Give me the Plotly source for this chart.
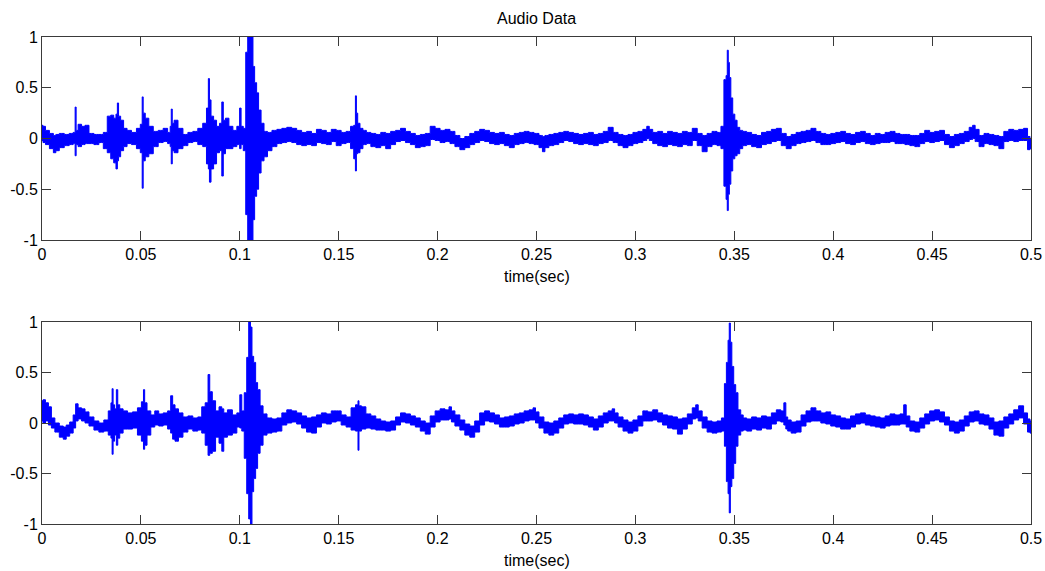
import plotly.graph_objects as go

# ---- recorded envelope of the audio signal (upper / lower extent per time slice) ----
# channel 1
top_t = [
    0.0000, 0.0010, 0.0025, 0.0050, 0.0065, 0.0075, 0.0100, 0.0125, 0.0150, 0.0165,
    0.0170, 0.0175, 0.0190, 0.0210, 0.0225, 0.0250, 0.0275, 0.0300, 0.0320, 0.0340,
    0.0355, 0.0370, 0.0378, 0.0384, 0.0390, 0.0405, 0.0420, 0.0440, 0.0465, 0.0490,
    0.0504, 0.0509, 0.0514, 0.0530, 0.0550, 0.0575, 0.0600, 0.0625, 0.0645, 0.0651,
    0.0656, 0.0661, 0.0675, 0.0700, 0.0725, 0.0750, 0.0775, 0.0800, 0.0825, 0.0838,
    0.0844, 0.0849, 0.0860, 0.0875, 0.0890, 0.0905, 0.0913, 0.0920, 0.0935, 0.0955,
    0.0975, 0.0995, 0.1003, 0.1010, 0.1025, 0.1035, 0.1045, 0.1055, 0.1063, 0.1070,
    0.1080, 0.1090, 0.1100, 0.1115, 0.1130, 0.1150, 0.1175, 0.1200, 0.1225, 0.1250,
    0.1275, 0.1300, 0.1325, 0.1350, 0.1375, 0.1400, 0.1425, 0.1450, 0.1475, 0.1500,
    0.1525, 0.1550, 0.1570, 0.1582, 0.1587, 0.1592, 0.1600, 0.1615, 0.1630,
    0.1650, 0.1675, 0.1700, 0.1725, 0.1750, 0.1775, 0.1800, 0.1825, 0.1850, 0.1875,
    0.1900, 0.1925, 0.1950, 0.1975, 0.2000, 0.2025, 0.2050, 0.2075, 0.2100, 0.2125,
    0.2150, 0.2175, 0.2200, 0.2225, 0.2250, 0.2275, 0.2300, 0.2325, 0.2350, 0.2375,
    0.2400, 0.2425, 0.2450, 0.2475, 0.2500, 0.2525, 0.2535, 0.2550, 0.2575, 0.2600,
    0.2625, 0.2650, 0.2675, 0.2700, 0.2725, 0.2750, 0.2775, 0.2800, 0.2825, 0.2850,
    0.2875, 0.2900, 0.2925, 0.2950, 0.2975, 0.3000, 0.3025, 0.3050, 0.3065, 0.3075,
    0.3100, 0.3125, 0.3150, 0.3175, 0.3200, 0.3225, 0.3250, 0.3275, 0.3300, 0.3325,
    0.3350, 0.3375, 0.3400, 0.3425,
    0.3440, 0.3455, 0.3462, 0.3467, 0.3472, 0.3478, 0.3487, 0.3497, 0.3508, 0.3520,
    0.3535,
    0.3550, 0.3575, 0.3600, 0.3625, 0.3650, 0.3675, 0.3700, 0.3725, 0.3750, 0.3775,
    0.3800, 0.3825, 0.3850, 0.3875, 0.3900, 0.3925, 0.3950, 0.3975, 0.4000, 0.4025,
    0.4050, 0.4075, 0.4100, 0.4125, 0.4150, 0.4175, 0.4200, 0.4225, 0.4250, 0.4275,
    0.4300, 0.4325, 0.4350, 0.4375, 0.4400, 0.4425, 0.4450, 0.4475, 0.4500, 0.4525,
    0.4550, 0.4575, 0.4600, 0.4625, 0.4650, 0.4675, 0.4700, 0.4710, 0.4725, 0.4750,
    0.4775, 0.4800, 0.4825, 0.4850, 0.4875, 0.4900, 0.4925, 0.4950, 0.4975, 0.4990,
    0.5000,
]
top_hi = [
    0.13, 0.12, 0.08, 0.05, 0.03, 0.04, 0.05, 0.04, 0.05, 0.06,
    0.31, 0.08, 0.14, 0.12, 0.13, 0.05, 0.04, 0.04, 0.06, 0.22,
    0.23, 0.20, 0.24, 0.35, 0.22, 0.18, 0.10, 0.08, 0.06, 0.10,
    0.14, 0.41, 0.25, 0.20, 0.12, 0.07, 0.08, 0.10, 0.06, 0.12,
    0.29, 0.15, 0.18, 0.10, 0.04, 0.06, 0.07, 0.10, 0.15, 0.30,
    0.59, 0.38, 0.22, 0.18, 0.12, 0.15, 0.36, 0.18, 0.20, 0.12,
    0.08, 0.12, 0.30, 0.12, 0.10, 0.85, 1.05, 1.05, 1.00, 0.71,
    0.55, 0.45, 0.28, 0.15, 0.07, 0.06, 0.08, 0.09, 0.10, 0.11,
    0.10, 0.08, 0.06, 0.07, 0.05, 0.09, 0.08, 0.06, 0.09, 0.08,
    0.06, 0.07, 0.12, 0.13, 0.42, 0.25, 0.15, 0.10, 0.08,
    0.06, 0.05, 0.04, 0.06, 0.05, 0.07, 0.08, 0.10, 0.07, 0.05,
    0.03, 0.04, 0.05, 0.12, 0.10, 0.08, 0.09, 0.07, 0.03, 0.00,
    0.02, 0.05, 0.07, 0.09, 0.08, 0.06, 0.05, 0.06, 0.04, 0.03,
    0.05, 0.06, 0.07, 0.06, 0.05, 0.03, 0.02, 0.03, 0.04, 0.05,
    0.06, 0.07, 0.06, 0.05, 0.04, 0.05, 0.06, 0.04, 0.05, 0.07,
    0.11, 0.06, 0.04, 0.03, 0.04, 0.06, 0.07, 0.09, 0.12, 0.09,
    0.06, 0.07, 0.05, 0.07, 0.06, 0.05, 0.07, 0.06, 0.10, 0.05,
    0.03, 0.05, 0.07, 0.06,
    0.12, 0.58, 0.62, 0.87, 0.75, 0.60, 0.40, 0.24, 0.18, 0.11,
    0.08,
    0.07, 0.06, 0.04, 0.03, 0.06, 0.07, 0.09, 0.10, 0.05, 0.02,
    0.04, 0.06, 0.07, 0.08, 0.10, 0.07, 0.05, 0.04, 0.05, 0.06,
    0.07, 0.05, 0.04, 0.06, 0.07, 0.05, 0.03, 0.05, 0.04, 0.06,
    0.07, 0.05, 0.04, 0.04, 0.03, 0.03, 0.05, 0.08, 0.06, 0.07,
    0.08, 0.04, 0.02, 0.04, 0.05, 0.07, 0.11, 0.13, 0.09, 0.03,
    0.05, 0.04, 0.03, 0.02, 0.07, 0.09, 0.08, 0.09, 0.10, 0.02,
    0.00,
]
top_lo = [
    -0.02, -0.04, -0.06, -0.10, -0.14, -0.12, -0.09, -0.07, -0.06, -0.05,
    -0.17, -0.06, -0.08, -0.06, -0.05, -0.05, -0.06, -0.04, -0.10, -0.14,
    -0.20, -0.24, -0.30, -0.22, -0.18, -0.12, -0.08, -0.05, -0.06, -0.10,
    -0.14, -0.49, -0.22, -0.18, -0.15, -0.08, -0.04, -0.03, -0.05, -0.08,
    -0.25, -0.12, -0.14, -0.10, -0.07, -0.04, -0.03, -0.06, -0.08, -0.25,
    -0.30, -0.43, -0.30, -0.25, -0.14, -0.12, -0.37, -0.15, -0.10, -0.10,
    -0.08, -0.06, -0.10, -0.06, -0.12, -0.75, -1.05, -1.05, -1.00, -0.80,
    -0.57, -0.50, -0.34, -0.22, -0.18, -0.12, -0.08, -0.05, -0.04, -0.03,
    -0.04, -0.06, -0.07, -0.06, -0.07, -0.04, -0.05, -0.06, -0.03, -0.07,
    -0.05, -0.04, -0.10, -0.20, -0.32, -0.15, -0.14, -0.10, -0.06,
    -0.05, -0.08, -0.09, -0.07, -0.10, -0.06, -0.03, -0.02, -0.04, -0.06,
    -0.09, -0.08, -0.07, -0.01, -0.02, -0.04, -0.03, -0.05, -0.08, -0.11,
    -0.09, -0.06, -0.04, -0.02, -0.03, -0.05, -0.06, -0.05, -0.07, -0.09,
    -0.06, -0.05, -0.04, -0.05, -0.06, -0.09, -0.13, -0.09, -0.07, -0.06,
    -0.04, -0.02, -0.03, -0.05, -0.06, -0.05, -0.06, -0.07, -0.05, -0.04,
    -0.02, -0.04, -0.07, -0.09, -0.07, -0.05, -0.04, -0.02, 0.00, -0.02,
    -0.05, -0.07, -0.08, -0.06, -0.07, -0.08, -0.06, -0.07, -0.02, -0.07,
    -0.13, -0.08, -0.06, -0.07,
    -0.10, -0.47, -0.60, -0.71, -0.55, -0.45, -0.32, -0.20, -0.17, -0.15,
    -0.10,
    -0.07, -0.06, -0.08, -0.09, -0.06, -0.05, -0.03, -0.02, -0.07, -0.10,
    -0.07, -0.05, -0.04, -0.03, -0.02, -0.04, -0.06, -0.06, -0.05, -0.04,
    -0.03, -0.05, -0.06, -0.04, -0.03, -0.05, -0.06, -0.05, -0.04, -0.04,
    -0.03, -0.05, -0.05, -0.06, -0.07, -0.08, -0.05, -0.03, -0.04, -0.03,
    -0.02, -0.06, -0.09, -0.07, -0.05, -0.03, -0.01, 0.00, -0.03, -0.08,
    -0.05, -0.06, -0.07, -0.10, -0.03, -0.02, -0.03, -0.02, -0.02, -0.11,
    -0.10,
]

# channel 2
bot_t = [
    0.0000, 0.0010, 0.0025, 0.0040, 0.0055, 0.0075, 0.0100, 0.0115, 0.0130, 0.0150,
    0.0165, 0.0175, 0.0190, 0.0210, 0.0225, 0.0250, 0.0275, 0.0300, 0.0325, 0.0345,
    0.0352, 0.0357, 0.0362, 0.0372, 0.0380, 0.0386, 0.0400, 0.0420, 0.0445, 0.0470,
    0.0495, 0.0510, 0.0516, 0.0522, 0.0540, 0.0560, 0.0580, 0.0600, 0.0625, 0.0645,
    0.0656, 0.0665, 0.0680, 0.0700, 0.0725, 0.0750, 0.0775, 0.0800, 0.0815, 0.0835,
    0.0844, 0.0852, 0.0870, 0.0885, 0.0905, 0.0913, 0.0925, 0.0950, 0.0975, 0.0995,
    0.1005, 0.1015, 0.1030, 0.1040, 0.1050, 0.1058, 0.1065, 0.1075, 0.1085, 0.1095,
    0.1110, 0.1125, 0.1150, 0.1175, 0.1200, 0.1225, 0.1250, 0.1275, 0.1300, 0.1325,
    0.1350, 0.1375, 0.1400, 0.1425, 0.1450, 0.1475, 0.1500, 0.1525, 0.1550, 0.1575,
    0.1595, 0.1600, 0.1605, 0.1625, 0.1650, 0.1675, 0.1700, 0.1725, 0.1750, 0.1775,
    0.1800, 0.1825, 0.1850, 0.1875, 0.1900, 0.1925, 0.1950, 0.1975, 0.2000, 0.2025,
    0.2050, 0.2065, 0.2075, 0.2100, 0.2125, 0.2150, 0.2175, 0.2200, 0.2225, 0.2250,
    0.2275, 0.2300, 0.2325, 0.2350, 0.2375, 0.2400, 0.2425, 0.2450, 0.2475, 0.2490,
    0.2500, 0.2525, 0.2550, 0.2575, 0.2600, 0.2625, 0.2650, 0.2675, 0.2700, 0.2725,
    0.2750, 0.2775, 0.2800, 0.2825, 0.2850, 0.2875, 0.2890, 0.2900, 0.2925, 0.2950,
    0.2975, 0.3000, 0.3025, 0.3050, 0.3075, 0.3100, 0.3125, 0.3150, 0.3175, 0.3200,
    0.3225, 0.3250, 0.3275, 0.3300, 0.3310, 0.3325, 0.3350, 0.3375, 0.3400, 0.3425,
    0.3445, 0.3455, 0.3465, 0.3472, 0.3477, 0.3483, 0.3492, 0.3502, 0.3512, 0.3525,
    0.3540,
    0.3550, 0.3575, 0.3600, 0.3625, 0.3650, 0.3675, 0.3700, 0.3725, 0.3745, 0.3756,
    0.3765, 0.3775, 0.3800, 0.3825, 0.3850, 0.3875, 0.3900, 0.3925, 0.3950, 0.3975,
    0.4000, 0.4025, 0.4050, 0.4075, 0.4100, 0.4125, 0.4150, 0.4175, 0.4200, 0.4225,
    0.4250, 0.4275, 0.4300, 0.4325, 0.4350, 0.4363, 0.4375, 0.4400, 0.4425, 0.4450,
    0.4475, 0.4500, 0.4525, 0.4550, 0.4575, 0.4600, 0.4625, 0.4650, 0.4675, 0.4700,
    0.4725, 0.4750, 0.4775, 0.4800, 0.4825, 0.4850, 0.4875, 0.4900, 0.4925, 0.4950,
    0.4975, 0.4990, 0.5000,
]
bot_hi = [
    0.22, 0.23, 0.20, 0.16, 0.05, 0.00, -0.03, -0.04, -0.02, 0.01,
    0.08, 0.19, 0.15, 0.14, 0.11, 0.06, 0.02, 0.00, 0.03, 0.12,
    0.20, 0.34, 0.18, 0.14, 0.33, 0.18, 0.14, 0.12, 0.10, 0.11,
    0.15, 0.21, 0.33, 0.20, 0.12, 0.08, 0.12, 0.09, 0.10, 0.12,
    0.27, 0.18, 0.14, 0.10, 0.06, 0.07, 0.05, 0.06, 0.16, 0.20,
    0.48, 0.31, 0.22, 0.12, 0.16, 0.14, 0.10, 0.13, 0.08, 0.10,
    0.28, 0.12, 0.30, 0.65, 1.05, 0.95, 0.66, 0.60, 0.40, 0.33,
    0.17, 0.09, 0.05, 0.04, 0.05, 0.10, 0.13, 0.12, 0.10, 0.07,
    0.05, 0.06, 0.08, 0.10, 0.09, 0.12, 0.12, 0.08, 0.06, 0.15,
    0.18, 0.22, 0.17, 0.16, 0.09, 0.07, 0.04, 0.02, 0.01, 0.02,
    0.06, 0.10, 0.09, 0.07, 0.05, 0.02, 0.00, 0.07, 0.12, 0.14,
    0.13, 0.16, 0.12, 0.08, 0.03, -0.01, -0.03, 0.02, 0.10, 0.12,
    0.10, 0.08, 0.05, 0.06, 0.07, 0.09, 0.10, 0.12, 0.13, 0.15,
    0.11, 0.06, 0.01, 0.00, 0.02, 0.05, 0.08, 0.09, 0.08, 0.09,
    0.08, 0.06, 0.04, 0.07, 0.10, 0.12, 0.14, 0.10, 0.06, 0.03,
    0.01, 0.03, 0.07, 0.12, 0.11, 0.13, 0.10, 0.08, 0.07, 0.06,
    0.04, 0.05, 0.09, 0.15, 0.18, 0.12, 0.06, 0.02, 0.01, 0.02,
    0.05, 0.39, 0.60, 0.82, 0.99, 0.80, 0.56, 0.38, 0.30, 0.13,
    0.08,
    0.05, 0.04, 0.06, 0.05, 0.07, 0.06, 0.10, 0.13, 0.12, 0.20,
    0.06, 0.03, 0.01, 0.02, 0.08, 0.12, 0.15, 0.12, 0.10, 0.11,
    0.08, 0.07, 0.05, 0.04, 0.07, 0.09, 0.10, 0.08, 0.07, 0.06,
    0.05, 0.07, 0.09, 0.08, 0.09, 0.18, 0.07, 0.02, 0.01, 0.05,
    0.09, 0.12, 0.13, 0.11, 0.06, 0.02, 0.01, 0.03, 0.07, 0.11,
    0.12, 0.09, 0.08, 0.05, 0.01, 0.02, 0.06, 0.09, 0.13, 0.17,
    0.10, 0.04, 0.02,
]
bot_lo = [
    0.02, 0.00, 0.02, -0.02, -0.05, -0.09, -0.14, -0.16, -0.13, -0.10,
    -0.05, 0.02, 0.04, 0.02, 0.00, -0.03, -0.07, -0.09, -0.08, -0.12,
    -0.15, -0.31, -0.18, -0.12, -0.22, -0.15, -0.10, -0.06, -0.06, -0.05,
    -0.12, -0.18, -0.26, -0.22, -0.12, -0.04, -0.02, -0.03, -0.02, -0.06,
    -0.10, -0.16, -0.18, -0.14, -0.09, -0.06, -0.08, -0.07, -0.10, -0.22,
    -0.32, -0.30, -0.28, -0.14, -0.20, -0.28, -0.14, -0.12, -0.10, -0.04,
    -0.05, -0.08, -0.35, -0.70, -0.95, -1.05, -0.68, -0.55, -0.45, -0.30,
    -0.22, -0.12, -0.10, -0.09, -0.08, -0.02, 0.00, 0.01, -0.01, -0.05,
    -0.09, -0.10, -0.04, 0.00, -0.01, 0.01, 0.02, -0.02, -0.04, -0.07,
    -0.08, -0.27, -0.08, -0.06, -0.05, -0.06, -0.07, -0.07, -0.08, -0.07,
    -0.02, 0.01, 0.00, -0.02, -0.04, -0.08, -0.11, -0.04, 0.01, 0.03,
    0.03, 0.04, 0.01, -0.03, -0.07, -0.12, -0.14, -0.09, -0.02, 0.02,
    0.01, -0.01, -0.04, -0.04, -0.03, -0.01, 0.00, 0.02, 0.03, 0.03,
    0.00, -0.05, -0.10, -0.12, -0.10, -0.05, -0.01, 0.00, -0.01, -0.01,
    -0.02, -0.04, -0.07, -0.04, 0.00, 0.02, 0.02, 0.00, -0.04, -0.08,
    -0.10, -0.08, -0.03, 0.02, 0.02, 0.03, 0.01, -0.02, -0.05, -0.06,
    -0.11, -0.06, -0.01, 0.04, 0.05, 0.02, -0.05, -0.09, -0.10, -0.09,
    -0.08, -0.23, -0.58, -0.70, -0.89, -0.63, -0.55, -0.40, -0.23, -0.12,
    -0.08,
    -0.07, -0.08, -0.06, -0.07, -0.05, -0.06, -0.01, 0.02, 0.01, -0.02,
    -0.06, -0.08, -0.10, -0.09, -0.03, 0.01, 0.02, 0.02, 0.00, -0.01,
    -0.03, -0.04, -0.06, -0.06, -0.04, -0.01, 0.00, -0.02, -0.03, -0.04,
    -0.05, -0.03, -0.02, -0.02, -0.01, -0.01, -0.04, -0.08, -0.09, -0.05,
    -0.01, 0.02, 0.03, 0.01, -0.02, -0.08, -0.10, -0.08, -0.03, 0.01,
    0.02, -0.01, -0.02, -0.06, -0.12, -0.13, -0.05, -0.01, 0.03, 0.05,
    -0.01, -0.09, -0.10,
]

assert len(top_t) == len(top_hi) == len(top_lo), (len(top_t), len(top_hi), len(top_lo))
assert len(bot_t) == len(bot_hi) == len(bot_lo), (len(bot_t), len(bot_hi), len(bot_lo))

# ---- axis ticks ----
x_ticks = [0, 0.05, 0.1, 0.15, 0.2, 0.25, 0.3, 0.35, 0.4, 0.45, 0.5]
x_tick_text = ["0", "0.05", "0.1", "0.15", "0.2", "0.25", "0.3", "0.35", "0.4", "0.45", "0.5"]
y_ticks = [-1, -0.5, 0, 0.5, 1]
y_tick_text = ["-1", "-0.5", "0", "0.5", "1"]

TITLE = "Audio Data"
X_LABEL = "time(sec)"

WAVE = "#0000ff"
AXIS = "#3a3a3a"
FONT = "Liberation Sans, Arial, sans-serif"
FSIZE = 16

W, H = 1045, 571
x_dom = [42 / W, 1031 / W]
top_dom = [1 - 240 / H, 1 - 37 / H]
bot_dom = [1 - 524 / H, 1 - 322 / H]

fig = go.Figure()


def add_wave(t, hi, lo, xa, ya):
    # lower envelope, then upper envelope filled down to it; steps centred on each
    # sample keep the short spikes as thin vertical strokes
    fig.add_trace(go.Scatter(x=t, y=lo, mode="lines",
                             line=dict(color=WAVE, width=1, shape="hvh"),
                             xaxis=xa, yaxis=ya, showlegend=False, hoverinfo="skip"))
    fig.add_trace(go.Scatter(x=t, y=hi, mode="lines",
                             line=dict(color=WAVE, width=1, shape="hvh"),
                             fill="tonexty", fillcolor=WAVE,
                             xaxis=xa, yaxis=ya, showlegend=False, hoverinfo="skip"))


add_wave(top_t, top_hi, top_lo, "x", "y")
add_wave(bot_t, bot_hi, bot_lo, "x2", "y2")

xcommon = dict(range=[0, 0.5], tickmode="array", tickvals=x_ticks, ticktext=x_tick_text,
               showgrid=False, zeroline=False, showline=True, linecolor=AXIS, linewidth=1,
               mirror="ticks", ticks="inside", ticklen=9, tickcolor=AXIS, tickwidth=1,
               tickfont=dict(family=FONT, size=FSIZE, color="#000000"), automargin=False,
               domain=x_dom)
ycommon = dict(range=[-1, 1], tickmode="array", tickvals=y_ticks, ticktext=y_tick_text,
               showgrid=False, zeroline=False, showline=True, linecolor=AXIS, linewidth=1,
               mirror="ticks", ticks="inside", ticklen=9, tickcolor=AXIS, tickwidth=1,
               tickfont=dict(family=FONT, size=FSIZE, color="#000000"), automargin=False)

fig.update_layout(
    width=W, height=H,
    margin=dict(l=0, r=0, t=0, b=0),
    paper_bgcolor="white", plot_bgcolor="white",
    xaxis=dict(**xcommon, anchor="y"),
    yaxis=dict(**ycommon, domain=top_dom, anchor="x"),
    xaxis2=dict(**xcommon, anchor="y2"),
    yaxis2=dict(**ycommon, domain=bot_dom, anchor="x2"),
    annotations=[
        dict(text=TITLE, xref="paper", yref="paper", x=(x_dom[0] + x_dom[1]) / 2,
             y=1 - 18.5 / H, xanchor="center", yanchor="middle", showarrow=False,
             font=dict(family=FONT, size=FSIZE, color="#000000")),
        dict(text=X_LABEL, xref="paper", yref="paper", x=(x_dom[0] + x_dom[1]) / 2,
             y=1 - 276.5 / H, xanchor="center", yanchor="middle", showarrow=False,
             font=dict(family=FONT, size=FSIZE, color="#000000")),
        dict(text=X_LABEL, xref="paper", yref="paper", x=(x_dom[0] + x_dom[1]) / 2,
             y=1 - 560 / H, xanchor="center", yanchor="middle", showarrow=False,
             font=dict(family=FONT, size=FSIZE, color="#000000")),
    ],
)

fig.write_html("out.html")
